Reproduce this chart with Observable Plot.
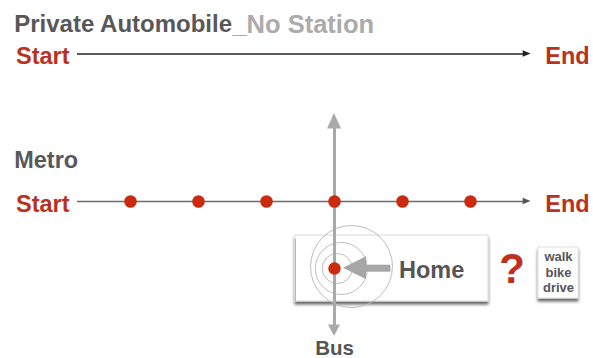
<!DOCTYPE html>
<html><head><meta charset="utf-8">
<script src="https://cdn.jsdelivr.net/npm/d3@7"></script>
<script src="https://cdn.jsdelivr.net/npm/@observablehq/plot@0.6"></script>
<style>
html,body{margin:0;padding:0;background:#fff;}
#chart svg{display:block;}
</style></head><body><div id="chart"></div>
<script>
// ---- data ----
const titleMain = "Private Automobile";
const titleNote = "_No Station";
const rowLabels = ["Metro"];
const endpoints = ["Start", "End"];
const stations = [1, 2, 3, 4, 5, 6];
const transferStation = 4;
const crossLabel = ["Bus"];
const homeLabel = ["Home"];
const questionMark = ["?"];
const accessModes = ["walk", "bike", "drive"];
const rippleLevels = [1, 2, 3];

// ---- layout (x: position along the route, y: rows) ----
const W = 593, H = 358, PX = 68; // pixels per route unit
const FONT = '"Liberation Sans", Arial, Helvetica, sans-serif';
const RED_TEXT = "#b8321f", RED_DOT = "#cb2a10", DARK = "#58585a", LIGHT = "#ababab", GRAY = "#a9a9a9";
const rows = {title: 24, car: 53.5, carText: 55.5, metroLabel: 160, metro: 201, metroText: 203.5,
              home: 268, homeText: 269.5, bus: 347.6, crossTop: 113, crossBottom: 336};
const route = {label: -0.71, startText: 0.103, lineStart: 0.22, lineEnd: 6.89, endText: 7.10};
const homeBox = {x1: 3.426, x2: 6.265, y1: 235, y2: 301};
const modeBox = {x1: 7.0, x2: 7.588, y1: 247, y2: 298};
const rippleGeom = {1: [4.04, 268, 15], 2: [4.10, 268, 26], 3: [4.25, 266, 41]};

const ctx = document.createElement("canvas").getContext("2d");
ctx.font = `bold 24px ${FONT}`;
const titleNoteX = route.label + (ctx.measureText(titleMain).width - 0.5) / PX;

// triangle helpers for arrow heads (geometry, derived from layout)
const headH = (tip, y, len, half) => [
  {y: y - half, a: tip - len, b: tip - len},
  {y: y, a: tip - len, b: tip},
  {y: y + half, a: tip - len, b: tip - len}];
const headV = (x, tip, len, half) => [
  {x: x - half, a: tip + len, b: tip + len},
  {x: x, a: tip + len, b: tip},
  {x: x + half, a: tip + len, b: tip + len}];

const txt = (data, o) => Plot.text(data, {text: d => d, fontFamily: FONT, fontWeight: "bold", ...o});
const one = ["•"];

const plot = Plot.plot({
  width: W, height: H, margin: 0,
  x: {domain: [0, 7], range: [62, 62 + 7 * PX], axis: null},
  y: {domain: [0, H], range: [0, H], axis: null},
  r: {type: "identity"},
  marks: [
    // home card & mode card
    Plot.rect(one, {x1: () => homeBox.x1, x2: () => homeBox.x2, y1: () => homeBox.y1, y2: () => homeBox.y2,
      fill: "white", stroke: "#dcdcdc", ariaLabel: () => "card"}),
    Plot.ruleX(one, {x: () => homeBox.x1, y1: () => homeBox.y1 + 4, y2: () => homeBox.y2, stroke: "#b5b5b5"}),
    Plot.rect(one, {x1: () => modeBox.x1, x2: () => modeBox.x2, y1: () => modeBox.y1, y2: () => modeBox.y2,
      fill: "white", stroke: "#e0e0e0", ariaLabel: () => "card"}),
    // ripples round home
    Plot.dot(rippleLevels, {x: d => rippleGeom[d][0], y: d => rippleGeom[d][1], r: d => rippleGeom[d][2],
      stroke: "#bdbdbd", strokeWidth: 1, fill: "none"}),
    // bus line (vertical)
    Plot.ruleX([transferStation], {y1: () => rows.crossTop + 15, y2: () => rows.crossBottom - 11, stroke: GRAY, strokeWidth: 3}),
    Plot.areaY(headV(transferStation, rows.crossTop, 15.5, 7 / PX), {x: "x", y1: "a", y2: "b", fill: GRAY, curve: "linear"}),
    Plot.areaY(headV(transferStation, rows.crossBottom, -11.5, 6 / PX), {x: "x", y1: "a", y2: "b", fill: GRAY, curve: "linear"}),
    // car line
    Plot.ruleY([rows.car], {x1: () => route.lineStart, x2: () => route.lineEnd - 0.08, stroke: "#222", strokeWidth: 1.3}),
    Plot.areaX(headH(route.lineEnd, rows.car, 0.115, 3.3), {y: "y", x1: "a", x2: "b", fill: "#222", curve: "linear"}),
    // metro line
    Plot.ruleY([rows.metro], {x1: () => route.lineStart, x2: () => route.lineEnd - 0.08, stroke: "#6a6a6a", strokeWidth: 1.5}),
    Plot.areaX(headH(route.lineEnd, rows.metro, 0.115, 3.3), {y: "y", x1: "a", x2: "b", fill: "#555", curve: "linear"}),
    Plot.dot(stations, {x: d => d, y: () => rows.metro, r: 6.3, fill: RED_DOT}),
    // home point and pointer arrow
    Plot.dot(homeLabel, {x: () => transferStation, y: () => rows.home, r: 6.2, fill: RED_DOT}),
    Plot.ruleY([rows.home - 0.3], {x1: () => 4.44, x2: () => 4.83, stroke: "#a6a6a6", strokeWidth: 7}),
    Plot.areaX(headH(4.132, rows.home - 0.3, -0.34, 11.5), {y: "y", x1: "a", x2: "b", fill: "#a6a6a6", curve: "linear"}),
    // texts
    txt([titleMain], {x: () => route.label, y: () => rows.title, textAnchor: "start", fontSize: 24, fill: DARK}),
    txt([titleNote], {x: () => titleNoteX, y: () => rows.title, textAnchor: "start", fontSize: 25.5, fill: LIGHT}),
    txt(rowLabels, {x: () => route.label, y: () => rows.metroLabel, textAnchor: "start", fontSize: 23.5, fill: DARK}),
    txt([endpoints[0]], {x: () => route.startText, y: () => rows.carText, textAnchor: "end", fontSize: 23.5, fill: RED_TEXT}),
    txt([endpoints[1]], {x: () => route.endText, y: () => rows.carText, textAnchor: "start", fontSize: 23.5, fill: RED_TEXT}),
    txt([endpoints[0]], {x: () => route.startText, y: () => rows.metroText, textAnchor: "end", fontSize: 23.5, fill: RED_TEXT}),
    txt([endpoints[1]], {x: () => route.endText, y: () => rows.metroText, textAnchor: "start", fontSize: 23.5, fill: RED_TEXT}),
    txt(homeLabel, {x: () => 4.948, y: () => rows.homeText, textAnchor: "start", fontSize: 23.5, fill: "#555"}),
    txt(crossLabel, {x: () => transferStation, y: () => rows.bus, textAnchor: "middle", fontSize: 20.5, fill: "#555"}),
    txt(questionMark, {x: () => 6.61, y: () => 269.2, textAnchor: "middle", fontSize: 42, fill: "#c0301c"}),
    txt([accessModes.join("\n")], {x: () => (modeBox.x1 + modeBox.x2) / 2, y: () => 271.3, textAnchor: "middle",
      fontSize: 13, lineHeight: 1.19, fill: "#555"})
  ]
});

// soft paper shadow under the two cards
const svg = d3.select(plot);
const defs = svg.insert("defs", ":first-child");
const f = defs.append("filter").attr("id", "cardShadow").attr("x", "-10%").attr("y", "-10%").attr("width", "120%").attr("height", "140%");
f.append("feDropShadow").attr("dx", 0).attr("dy", 3).attr("stdDeviation", 1.5).attr("flood-color", "#000").attr("flood-opacity", 0.6);
svg.selectAll('[aria-label="card"]').attr("filter", "url(#cardShadow)");

document.getElementById("chart").appendChild(plot);
</script>
</body></html>
